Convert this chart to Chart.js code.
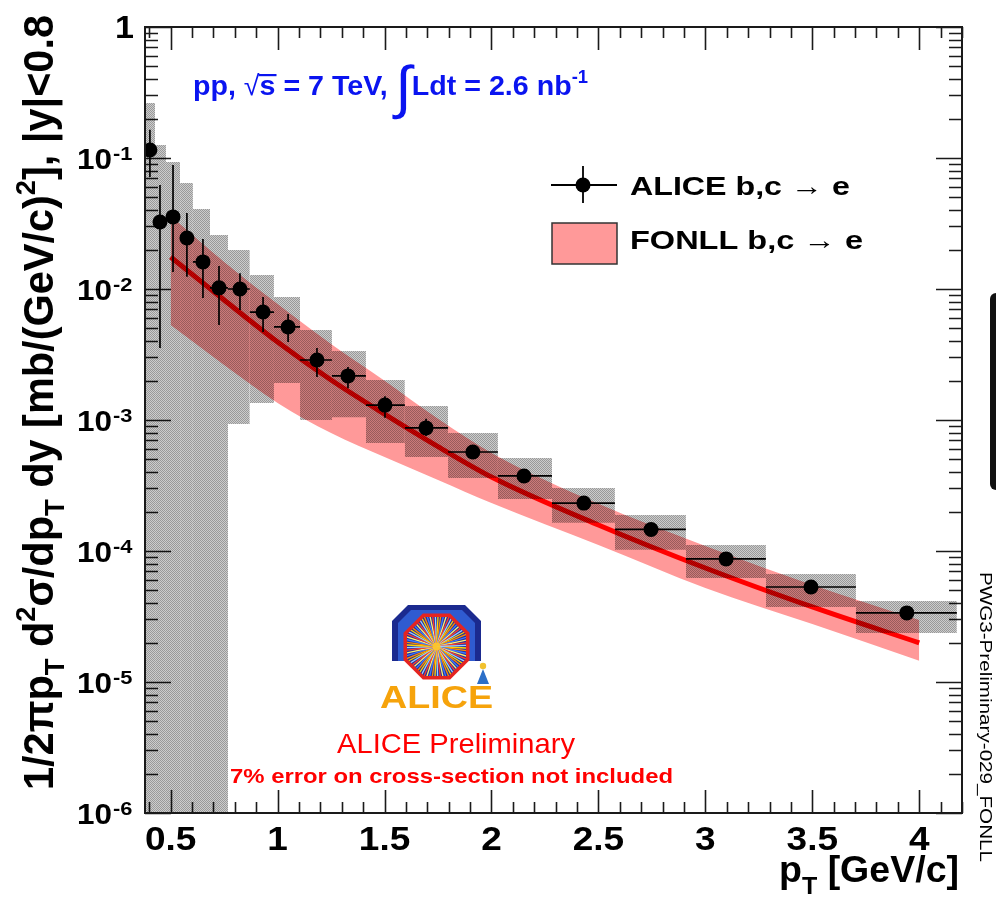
<!DOCTYPE html>
<html>
<head>
<meta charset="utf-8">
<title>ALICE b,c → e vs FONLL</title>
<script src="https://cdn.jsdelivr.net/npm/chart.js@4.4.1/dist/chart.umd.min.js"></script>
<style>
  html, body { margin: 0; padding: 0; background: #fff; }
  #wrap { position: relative; width: 996px; height: 898px; }
</style>
</head>
<body>
<div id="wrap"><canvas id="xsecChart"></canvas></div>
<script>
// ALICE b,c -> e, pT in GeV/c, 1/2pi pT d2sigma/dpTdy in mb/(GeV/c)^2
const ptCenter = [0.403, 0.450, 0.511, 0.576, 0.651, 0.726, 0.824, 0.932, 1.049, 1.184, 1.329, 1.502, 1.694, 1.913, 2.152, 2.432, 2.746, 3.097, 3.494, 3.942];
const ptLow = [0.38, 0.427, 0.478, 0.544, 0.604, 0.684, 0.768, 0.87, 0.983, 1.105, 1.254, 1.413, 1.595, 1.797, 2.03, 2.283, 2.577, 2.909, 3.283, 3.704];
const ptHigh = [0.427, 0.478, 0.544, 0.604, 0.684, 0.768, 0.87, 0.983, 1.105, 1.254, 1.413, 1.595, 1.797, 2.03, 2.283, 2.577, 2.909, 3.283, 3.704, 4.176];
const xsec = [0.115, 0.0325, 0.0355, 0.0245, 0.0161, 0.0102, 0.0100, 0.00667, 0.00513, 0.00287, 0.00217, 0.00130, 0.00087, 0.00057, 0.000374, 0.000232, 0.000146, 8.7e-5, 5.31e-5, 3.37e-5];
const statLow = [0.0717, 0.00355, 0.0135, 0.0124, 0.00853, 0.00531, 0.00691, 0.0047, 0.00394, 0.00213, 0.00175, 0.00104, 0.000755, 0.000522, 0.000355, 0.000222, 0.00014, 8.35e-5, 5.1e-5, 3.22e-5];
const statHigh = [0.164, 0.0622, 0.0885, 0.038, 0.0241, 0.015, 0.0132, 0.00869, 0.00644, 0.00355, 0.00254, 0.00152, 0.00102, 0.000622, 0.000393, 0.000243, 0.000152, 9.1e-5, 5.5e-5, 3.52e-5];
// systematic boxes; 0 means the box runs off the bottom of the axis
const sysLow = [0, 0, 0, 0, 0, 0, 0.000932, 0.00135, 0.00192, 0.001, 0.00105, 0.000667, 0.000522, 0.000361, 0.000249, 0.000164, 0.000102, 6.22e-5, 3.74e-5, 2.37e-5];
const sysHigh = [0.263, 0.1257, 0.0932, 0.0645, 0.0408, 0.0258, 0.01986, 0.0128, 0.00869, 0.00486, 0.00336, 0.00202, 0.00128, 0.000796, 0.000513, 0.000303, 0.000188, 0.000111, 6.67e-5, 4.15e-5];

// FONLL prediction
const fonllPt = [0.5, 0.75, 1.0, 1.25, 1.5, 1.75, 2.0, 2.5, 3.0, 3.5, 4.0];
const fonllMid = [0.01755, 0.00824, 0.00394, 0.00202, 0.00111, 0.000627, 0.000367, 0.000158, 7.42e-5, 3.74e-5, 1.99e-5];
const fonllUp = [0.0361, 0.01607, 0.00768, 0.0038, 0.00199, 0.00102, 0.00056, 0.000229, 0.000109, 5.5e-5, 2.97e-5];
const fonllDown = [0.00531, 0.00263, 0.00135, 0.000796, 0.000522, 0.000348, 0.000232, 0.000111, 5.22e-5, 2.77e-5, 1.45e-5];

// axis labels
const xTickValues = [0.5, 1, 1.5, 2, 2.5, 3, 3.5, 4];
const xTickLabels = ['0.5', '1', '1.5', '2', '2.5', '3', '3.5', '4'];
const yDecades = [1, 1e-1, 1e-2, 1e-3, 1e-4, 1e-5, 1e-6];
const yDecadeExp = ['0', '-1', '-2', '-3', '-4', '-5', '-6'];

const FONT = '"Liberation Sans", Arial, sans-serif';

function makeHatch() {
    const c = document.createElement('canvas');
    c.width = 2;
    c.height = 2;
    const g = c.getContext('2d');
    g.fillStyle = 'rgba(0,0,0,0.4)';
    g.fillRect(0, 0, 1, 1);
    g.fillRect(1, 1, 1, 1);
    g.fillStyle = 'rgba(0,0,0,0.2)';
    g.fillRect(1, 0, 1, 1);
    g.fillRect(0, 1, 1, 1);
    return g.createPattern(c, 'repeat');
}

// draws a run of text pieces (for sub/superscripts), optionally stretched to a width
function drawRuns(ctx, runs, o) {
    ctx.save();
    ctx.fillStyle = o.color || '#000';
    ctx.textBaseline = 'alphabetic';
    ctx.textAlign = 'left';
    let total = 0;
    const widths = runs.map(r => {
        ctx.font = r.f;
        const w = ctx.measureText(r.t).width;
        total += w;
        return w;
    });
    const sx = o.w ? o.w / total : (o.sx || 1);
    ctx.translate(o.x, o.y);
    if (o.rot) ctx.rotate(o.rot);
    ctx.scale(sx, o.sy || 1);
    let cx = o.align === 'center' ? -total / 2 : o.align === 'right' ? -total : 0;
    runs.forEach((r, i) => {
        ctx.font = r.f;
        ctx.fillText(r.t, cx, r.dy || 0);
        if (r.bar !== undefined) ctx.fillRect(cx - 1, r.bar, widths[i] + 2, 2.2);
        cx += widths[i];
    });
    ctx.restore();
}

function polygon(ctx, pts, color) {
    ctx.beginPath();
    pts.forEach((p, i) => i ? ctx.lineTo(p[0], p[1]) : ctx.moveTo(p[0], p[1]));
    ctx.closePath();
    ctx.fillStyle = color;
    ctx.fill();
}

function octagon(cx, cy, apothem) {
    const r = apothem / Math.cos(Math.PI / 8);
    const pts = [];
    for (let k = 0; k < 8; k++) {
        const a = Math.PI / 8 + k * Math.PI / 4;
        pts.push([cx + r * Math.cos(a), cy + r * Math.sin(a)]);
    }
    return pts;
}

function drawLogo(ctx) {
    polygon(ctx, [[408, 605], [465, 605], [481, 621], [481, 661], [392, 661], [392, 621]], '#1b2a8f');
    polygon(ctx, [[411, 610], [462, 610], [475, 623], [475, 661], [398, 661], [398, 623]], '#2f5bd0');
    const cx = 436.5, cy = 646.5;
    polygon(ctx, octagon(cx, cy, 33), '#e52420');
    const inner = octagon(cx, cy, 29.5);
    polygon(ctx, inner, '#25309c');
    ctx.save();
    ctx.beginPath();
    inner.forEach((p, i) => i ? ctx.lineTo(p[0], p[1]) : ctx.moveTo(p[0], p[1]));
    ctx.closePath();
    ctx.clip();
    const rays = ['#ffd400', '#ff8a00', '#3d7bff', '#ffef70', '#ff3c28', '#9ad0ff'];
    ctx.lineWidth = 1.3;
    for (let k = 0; k < 72; k++) {
        const a = k * Math.PI / 36 + 0.05;
        ctx.strokeStyle = rays[k % rays.length];
        ctx.beginPath();
        ctx.moveTo(cx, cy);
        ctx.lineTo(cx + 40 * Math.cos(a), cy + 40 * Math.sin(a));
        ctx.stroke();
    }
    ctx.fillStyle = 'rgba(255,200,40,0.9)';
    ctx.beginPath();
    ctx.arc(cx, cy, 4, 0, Math.PI * 2);
    ctx.fill();
    ctx.restore();
    // little figure
    ctx.fillStyle = '#f2c230';
    ctx.beginPath();
    ctx.arc(483, 666, 3.2, 0, Math.PI * 2);
    ctx.fill();
    polygon(ctx, [[483, 669], [489, 684], [477, 684]], '#2c6fc8');
    drawRuns(ctx, [{t: 'ALICE', f: 'bold 32px ' + FONT}], {x: 380, y: 708, w: 113, color: '#f6a30b'});
}

const hatchFill = makeHatch();

const frameAndTicks = {
    id: 'frameAndTicks',
    beforeDatasetsDraw(chart) {
        const {ctx, chartArea: a, scales: {x, y}} = chart;
        ctx.save();
        ctx.strokeStyle = '#1a1a1a';
        ctx.lineWidth = 1.6;
        ctx.beginPath();
        x.ticks.forEach(t => {
            const px = Math.round(x.getPixelForValue(t.value)) + 0.5;
            const major = Math.abs(t.value * 2 - Math.round(t.value * 2)) < 1e-6;
            const len = major ? 23 : 11;
            ctx.moveTo(px, a.bottom);
            ctx.lineTo(px, a.bottom - len);
            ctx.moveTo(px, a.top);
            ctx.lineTo(px, a.top + len);
        });
        y.ticks.forEach(t => {
            const py = Math.round(y.getPixelForValue(t.value)) + 0.5;
            const lg = Math.log10(t.value);
            const major = Math.abs(lg - Math.round(lg)) < 1e-6;
            const len = major ? 26 : 13;
            ctx.moveTo(a.left, py);
            ctx.lineTo(a.left + len, py);
            ctx.moveTo(a.right, py);
            ctx.lineTo(a.right - len, py);
        });
        ctx.stroke();
        ctx.restore();
    }
};

const errorBars = {
    id: 'errorBars',
    afterDatasetsDraw(chart) {
        const {ctx, chartArea: a, scales: {x, y}} = chart;
        ctx.save();
        ctx.beginPath();
        ctx.rect(a.left, a.top, a.width, a.height);
        ctx.clip();
        ctx.strokeStyle = '#000';
        ctx.lineWidth = 1.7;
        ctx.beginPath();
        ptCenter.forEach((p, i) => {
            const px = x.getPixelForValue(p);
            const py = y.getPixelForValue(xsec[i]);
            ctx.moveTo(x.getPixelForValue(ptLow[i]), py);
            ctx.lineTo(x.getPixelForValue(ptHigh[i]), py);
            ctx.moveTo(px, y.getPixelForValue(statHigh[i]));
            ctx.lineTo(px, y.getPixelForValue(statLow[i]));
        });
        ctx.stroke();
        ctx.restore();
    }
};

const annotations = {
    id: 'annotations',
    afterDraw(chart) {
        const {ctx, chartArea: a, scales: {x, y}} = chart;
        // frame
        ctx.save();
        ctx.strokeStyle = '#1a1a1a';
        ctx.lineWidth = 2;
        ctx.strokeRect(a.left, a.top, a.width, a.height);
        ctx.restore();

        const B = s => 'bold ' + s + 'px ' + FONT;
        const N = s => s + 'px ' + FONT;

        // x tick labels
        xTickValues.forEach((v, i) => {
            drawRuns(ctx, [{t: xTickLabels[i], f: B(33)}], {x: x.getPixelForValue(v), y: 850, sx: 1.12, align: 'center'});
        });
        // y tick labels
        yDecades.forEach((v, i) => {
            const py = y.getPixelForValue(v);
            if (yDecadeExp[i] === '0') {
                drawRuns(ctx, [{t: '1', f: B(31)}], {x: 134, y: py + 11, sx: 1.1, align: 'right'});
            } else {
                drawRuns(ctx, [{t: '10', f: B(30)}], {x: 112, y: py + 10.7, w: 35, align: 'right'});
                drawRuns(ctx, [{t: yDecadeExp[i], f: B(19)}], {x: 113, y: py + 2, sx: 1.15});
            }
        });

        // axis titles
        drawRuns(ctx, [
            {t: 'p', f: B(36)},
            {t: 'T', f: B(24), dy: 12},
            {t: ' [GeV/c]', f: B(36)}
        ], {x: 779, y: 882, w: 180});
        drawRuns(ctx, [
            {t: '1/2\u03c0p', f: B(38)},
            {t: 'T', f: B(25), dy: 10},
            {t: ' d', f: B(38)},
            {t: '2', f: B(25), dy: -16},
            {t: '\u03c3/dp', f: B(38)},
            {t: 'T', f: B(25), dy: 10},
            {t: ' dy [mb/(GeV/c)', f: B(38)},
            {t: '2', f: B(25), dy: -16},
            {t: '], |y|<0.8', f: B(38)}
        ], {x: 53, y: 790, w: 775, sy: 1.1, rot: -Math.PI / 2});

        // collision system
        drawRuns(ctx, [
            {t: 'pp, ', f: B(28)},
            {t: '\u221a', f: N(28)},
            {t: 's', f: B(28), bar: -21},
            {t: ' = 7 TeV, ', f: B(28)},
            {t: '\u222b', f: N(58), dy: 12},
            {t: 'Ldt = 2.6 nb', f: B(28)},
            {t: '-1', f: B(18), dy: -12}
        ], {x: 193, y: 95, w: 395, color: '#0a14f0'});

        // legend
        ctx.save();
        ctx.strokeStyle = '#000';
        ctx.lineWidth = 1.8;
        ctx.beginPath();
        ctx.moveTo(551, 185);
        ctx.lineTo(617, 185);
        ctx.moveTo(583, 166);
        ctx.lineTo(583, 203);
        ctx.stroke();
        ctx.fillStyle = '#000';
        ctx.beginPath();
        ctx.arc(583, 185, 7.5, 0, Math.PI * 2);
        ctx.fill();
        ctx.fillStyle = '#ff9999';
        ctx.fillRect(552, 223, 65, 41);
        ctx.strokeStyle = '#333';
        ctx.lineWidth = 1.5;
        ctx.strokeRect(552, 223, 65, 41);
        ctx.restore();
        drawRuns(ctx, [{t: 'ALICE b,c \u2192 e', f: B(26)}], {x: 630, y: 195, w: 220});
        drawRuns(ctx, [{t: 'FONLL b,c \u2192 e', f: B(26)}], {x: 630, y: 249, w: 233});

        // logo and preliminary labels
        drawLogo(ctx);
        drawRuns(ctx, [{t: 'ALICE Preliminary', f: N(28)}], {x: 337, y: 753, w: 238, color: '#ff0000'});
        drawRuns(ctx, [{t: '7% error on cross-section not included', f: B(21)}], {x: 230, y: 783, w: 443, color: '#ff0000'});

        // side tag
        drawRuns(ctx, [{t: 'PWG3-Preliminary-029_FONLL', f: N(17)}], {x: 980, y: 572, w: 290, rot: Math.PI / 2});
        ctx.save();
        ctx.fillStyle = '#111';
        ctx.beginPath();
        ctx.roundRect(990, 293, 14, 197, 6);
        ctx.fill();
        ctx.restore();
    }
};

// minor tick positions for the log axis
const yMinorTicks = [];
for (let k = -6; k < 0; k++) {
    for (let m = 1; m <= 9; m++) yMinorTicks.push(m * Math.pow(10, k));
}
yMinorTicks.push(1);

const sysBoxes = ptCenter.map((_, i) => ({
    type: 'line',
    data: [{x: ptLow[i], y: sysHigh[i]}, {x: ptHigh[i], y: sysHigh[i]}],
    fill: sysLow[i] > 0 ? {value: sysLow[i]} : 'start',
    backgroundColor: hatchFill,
    borderColor: 'rgba(0,0,0,0)',
    borderWidth: 0,
    pointRadius: 0,
    order: 1
}));

const ctx = document.getElementById('xsecChart');

new Chart(ctx, {
    type: 'line',
    data: {
        datasets: [
            {
                label: 'ALICE b,c \u2192 e',
                data: ptCenter.map((p, i) => ({x: p, y: xsec[i]})),
                showLine: false,
                pointRadius: 7.5,
                pointBackgroundColor: '#000',
                pointBorderWidth: 0,
                order: 0
            },
            ...sysBoxes,
            {
                label: 'FONLL central',
                data: fonllPt.map((p, i) => ({x: p, y: fonllMid[i]})),
                borderColor: '#ff0000',
                borderWidth: 5,
                pointRadius: 0,
                fill: false,
                cubicInterpolationMode: 'monotone',
                order: 2
            },
            {
                label: 'FONLL b,c \u2192 e',
                data: fonllPt.map((p, i) => ({x: p, y: fonllUp[i]})),
                borderWidth: 0,
                borderColor: 'rgba(0,0,0,0)',
                backgroundColor: '#ff9999',
                pointRadius: 0,
                fill: '+1',
                cubicInterpolationMode: 'monotone',
                order: 3
            },
            {
                label: 'FONLL lower',
                data: fonllPt.map((p, i) => ({x: p, y: fonllDown[i]})),
                borderWidth: 0,
                borderColor: 'rgba(0,0,0,0)',
                pointRadius: 0,
                fill: false,
                cubicInterpolationMode: 'monotone',
                order: 3
            }
        ]
    },
    options: {
        responsive: true,
        maintainAspectRatio: false,
        animation: false,
        events: [],
        layout: {
            padding: {top: 27, right: 34, left: 0, bottom: 0}
        },
        scales: {
            x: {
                type: 'linear',
                min: 0.38,
                max: 4.2,
                ticks: {display: false, stepSize: 0.1, includeBounds: false},
                grid: {display: false},
                border: {display: false},
                afterFit: s => { s.height = 85; }
            },
            y: {
                type: 'logarithmic',
                min: 1e-6,
                max: 1,
                ticks: {display: false},
                grid: {display: false},
                border: {display: false},
                afterBuildTicks: s => { s.ticks = yMinorTicks.map(v => ({value: v})); },
                afterFit: s => { s.width = 145; }
            }
        },
        plugins: {
            legend: {display: false},
            tooltip: {enabled: false}
        }
    },
    plugins: [frameAndTicks, errorBars, annotations]
});
</script>
</body>
</html>
